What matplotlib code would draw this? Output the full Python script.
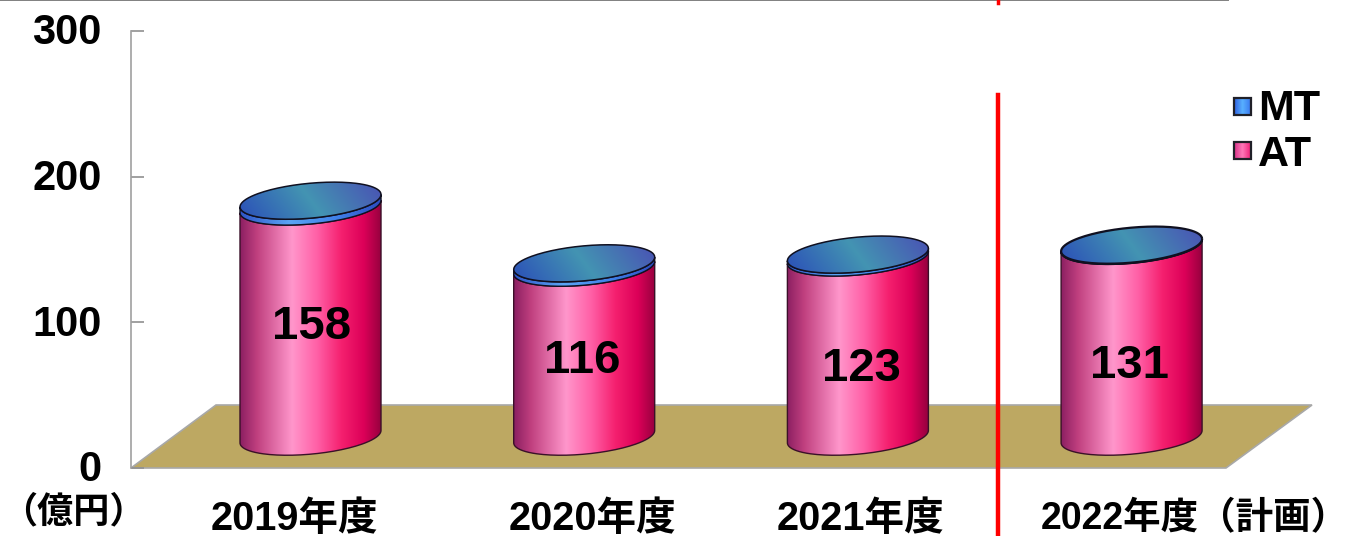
import matplotlib
matplotlib.use('Agg')
import matplotlib.pyplot as plt
import numpy as np
from matplotlib.colors import LinearSegmentedColormap
from matplotlib.lines import Line2D
from matplotlib.patches import PathPatch, Polygon, Rectangle
from matplotlib.path import Path
from matplotlib.transforms import ScaledTranslation

plt.rcParams['font.family'] = ['Liberation Sans', 'Noto Sans CJK JP']
plt.rcParams['font.weight'] = 'bold'

years = ['2019年度', '2020年度', '2021年度', '2022年度（計画）']
at_values = [158, 116, 123, 131]
mt_values = [4, 3, 2, 0.5]
y_ticks = [0, 100, 200, 300]

WIDTH, HEIGHT = 1350, 536
AX_LEFT, AX_RIGHT, AX_TOP, AX_BOTTOM = 131, 1228, 31, 468
BAR_STEP = 273.7
FIRST_BAR = 310.5

side_cmap = LinearSegmentedColormap.from_list('side', [
    (0.0, '#8c1f62'), (0.12, '#c0407f'), (0.37, '#ff96cb'), (0.55, '#ff5fa6'),
    (0.72, '#f5206f'), (0.88, '#dc0058'), (1.0, '#98003f')])
band_cmap = LinearSegmentedColormap.from_list('band', [
    (0.0, '#2f55c8'), (0.35, '#5aa5f5'), (0.7, '#3f7fe8'), (1.0, '#2c4cc0')])
top_cmap = LinearSegmentedColormap.from_list('top', [
    (0.0, '#2a4cb8'), (0.5, '#4394b2'), (1.0, '#4a4eb4')])
legend_mt = LinearSegmentedColormap.from_list('mt', ['#2f60e0', '#58b0ff', '#3a78f0'])
legend_at = LinearSegmentedColormap.from_list('at', ['#d83088', '#ff78b8', '#f02078'])


def px(x):
    """Перевод горизонтальной позиции в пикселах в координаты оси x"""
    return (x - FIRST_BAR) / BAR_STEP


def py(y):
    """Перевод вертикальной позиции в пикселах в координаты оси y"""
    return (AX_BOTTOM - y) / (AX_BOTTOM - AX_TOP) * 300


RX = 70.5 / BAR_STEP
RY = 17.5 * 300 / (AX_BOTTOM - AX_TOP)
SHEAR = 6.2 * 300 / (AX_BOTTOM - AX_TOP)
BASE = 21.5


def rim(cx, level, start, stop, n=80):
    t = np.linspace(start, stop, n)
    return cx + RX * np.cos(t), level + RY * np.sin(t) + SHEAR * np.cos(t)


def side_path(cx, low, high):
    # верхняя граница идёт по передней дуге верхнего эллипса, нижняя - по передней дуге нижнего
    x0, y0 = rim(cx, low, np.pi, 2 * np.pi)
    x1, y1 = rim(cx, high, 2 * np.pi, np.pi)
    verts = np.column_stack([np.r_[x0, x1], np.r_[y0, y1]])
    verts = np.vstack([verts, verts[0]])
    return Path(verts, closed=False)


def draw_side(ax, cx, low, high, cmap, zorder, edge):
    path = side_path(cx, low, high)
    ax.add_patch(PathPatch(path, facecolor='none', edgecolor=edge, lw=1.0, zorder=zorder + 0.1))
    im = ax.imshow(np.linspace(0, 1, 256).reshape(1, -1), cmap=cmap, aspect='auto', zorder=zorder,
                   extent=(cx - RX, cx + RX, low - RY - SHEAR, high + RY + SHEAR))
    im.set_clip_path(PathPatch(path, transform=ax.transData))


def draw_top(ax, cx, level, zorder, lw):
    x, y = rim(cx, level, 0, 2 * np.pi, 160)
    path = Path(np.column_stack([x, y]), closed=False)
    ax.add_patch(PathPatch(path, facecolor='none', edgecolor='#101020', lw=lw, zorder=zorder + 0.1))
    # диагональная заливка верхней крышки
    u, v = np.meshgrid(np.linspace(0, 1, 200), np.linspace(0, 1, 80))
    im = ax.imshow(0.8 * u + 0.2 * v, cmap=top_cmap, aspect='auto', zorder=zorder, origin='lower',
                   extent=(cx - RX, cx + RX, level - RY - SHEAR, level + RY + SHEAR))
    im.set_clip_path(PathPatch(path, transform=ax.transData))


def draw_swatch(ax, left, top, cmap):
    extent = (px(left), px(left + 17), py(top + 17), py(top))
    im = ax.imshow(np.linspace(0, 1, 64).reshape(1, -1), cmap=cmap, aspect='auto', extent=extent, zorder=6)
    im.set_clip_on(False)
    ax.add_patch(Rectangle((extent[0], extent[2]), extent[1] - extent[0], extent[3] - extent[2],
                           facecolor='none', edgecolor='#202028', lw=1.6, zorder=7, clip_on=False))


fig = plt.figure(figsize=(WIDTH / 100, HEIGHT / 100), dpi=100)
ax = fig.add_axes([AX_LEFT / WIDTH, 1 - AX_BOTTOM / HEIGHT,
                   (AX_RIGHT - AX_LEFT) / WIDTH, (AX_BOTTOM - AX_TOP) / HEIGHT])

# пол диаграммы
floor = [(px(131), py(468)), (px(1226), py(468)), (px(1312), py(405)), (px(216), py(405))]
ax.add_patch(Polygon(floor, closed=True, facecolor='#bda862', edgecolor='#a8a8a8', lw=1.2,
                     zorder=1, clip_on=False))

for i in range(len(years)):
    at_top = BASE + at_values[i]
    mt_top = at_top + mt_values[i]
    draw_side(ax, i, BASE, at_top, side_cmap, 2, '#3a1028')
    draw_side(ax, i, at_top, mt_top, band_cmap, 3, '#101020')
    draw_top(ax, i, mt_top, 4, 1.6 if i == 3 else 1.1)

value_x = [312, 582, 861, 1130]
value_y = [327, 361, 369, 366]
for i in range(len(years)):
    ax.text(px(value_x[i]), py(value_y[i]), str(at_values[i]), fontsize=34, ha='center', va='center', zorder=6)

# подписи лет стоят не строго под столбцами, у последней шрифт меньше - она длиннее
label_x = [294, 593, 861, 1195]
label_size = [28.5, 28.5, 28.5, 27]
for i in range(len(years)):
    ax.text(px(label_x[i]), py(519), years[i], fontsize=label_size[i], ha='center', va='center', clip_on=False)
ax.text(px(73), py(513), '（億円）', fontsize=26, ha='center', va='center', clip_on=False)

# разделитель факта и плана
ax.plot([px(998), px(998)], [py(95), py(536)], color='#ff0000', lw=3.2, zorder=5, clip_on=False)

draw_swatch(ax, 1234, 98, legend_mt)
draw_swatch(ax, 1234, 142, legend_at)
ax.text(px(1258), py(109), 'MT', fontsize=31, ha='left', va='center', clip_on=False)
ax.text(px(1258), py(155), 'AT', fontsize=31, ha='left', va='center', clip_on=False)

ax.set_xlim(px(AX_LEFT), px(AX_RIGHT))
ax.set_ylim(0, 300)
ax.set_xticks([])
ax.set_yticks(y_ticks)
ax.tick_params(axis='y', direction='in', length=9, width=1.2, color='#909090', labelsize=30, pad=21)
for label in ax.get_yticklabels():
    label.set_transform(label.get_transform() + ScaledTranslation(0, 1.5 / 72, fig.dpi_scale_trans))
for name in ['top', 'right', 'bottom']:
    ax.spines[name].set_visible(False)
ax.spines['left'].set_color('#a0a0a0')
ax.spines['left'].set_linewidth(1.2)
ax.patch.set_alpha(0)

# линия по верхнему краю и красная метка над ней
fig.add_artist(Line2D([0, AX_RIGHT / WIDTH], [0.9995, 0.9995], color='#808080', lw=1.4))
fig.add_artist(Line2D([997.5 / WIDTH, 997.5 / WIDTH], [0.995, 1.0], color='#ff0000', lw=2.5))

plt.savefig('out.png', dpi=100)
